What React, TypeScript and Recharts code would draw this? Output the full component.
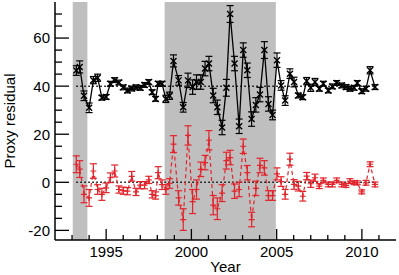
import React from "react"
import {
  ComposedChart,
  Line,
  XAxis,
  YAxis,
  ErrorBar,
  ReferenceArea,
  ReferenceLine,
} from "recharts"

const FONT = "'Liberation Sans', Arial, Helvetica, sans-serif"
const RED = "#e3242b"
const GREY = "#bfbfbf"

// sampling times (decimal year), shared by both series
const years = [
  1993.25, 1993.45, 1993.7, 1994.0, 1994.25, 1994.5, 1994.75, 1995.0, 1995.25, 1995.5,
  1995.75, 1996.0, 1996.25, 1996.5, 1996.75, 1997.0, 1997.25, 1997.5, 1997.7, 1997.9,
  1998.05, 1998.28, 1998.5, 1998.72, 1998.95, 1999.25, 1999.52, 1999.8, 2000.07, 2000.3,
  2000.55, 2000.8, 2001.03, 2001.28, 2001.52, 2001.8, 2002.05, 2002.27, 2002.53, 2002.8,
  2003.04, 2003.28, 2003.53, 2003.78, 2004.02, 2004.28, 2004.52, 2004.76, 2005.02, 2005.26,
  2005.5, 2005.78, 2006.02, 2006.27, 2006.53, 2006.76, 2007.0, 2007.25, 2007.5, 2007.74,
  2008.03, 2008.27, 2008.52, 2008.82, 2009.07, 2009.3, 2009.54, 2009.73, 2009.99, 2010.24,
  2010.48, 2010.77,
]

// black series (plotted with +40 offset)
const blackVals = [
  46.5, 48, 36, 31, 42.5, 43.5, 35.2, 35.5, 41, 42.5,
  41.5, 39.5, 38.2, 39, 39.5, 39.3, 40.5, 41.7, 37.5, 34.7,
  41, 41, 34.7, 36, 50.5, 42.4, 31.2, 42.4, 39.6, 41.7,
  41.7, 47.3, 49.4, 36.1, 31.2, 22.8, 39.3, 70, 49.4, 23.3,
  55, 46.6, 26.3, 32.2, 36.5, 55, 32.6, 28, 50.8, 40.3,
  34, 45.2, 41.7, 36.1, 35.4, 42.1, 39.3, 41.7, 38.9, 41,
  38.2, 39.9, 41.3, 40.3, 39.6, 38.9, 39.3, 41.3, 37.9, 38.9,
  46.6, 39.6,
]
const blackErr = [
  2, 2.5, 2, 2, 1.5, 1.5, 1, 1, 1, 1,
  1, 1, 1, 1, 1, 1, 1, 1, 1, 1,
  1, 1, 1.5, 1.5, 2.5, 2, 2, 3, 3, 3,
  3, 3, 3, 3, 3, 3, 3.5, 3.5, 3, 3,
  3, 3, 3, 3, 3, 3.5, 3, 2, 3, 2,
  2, 2, 2, 1, 1, 1.5, 1.5, 1.5, 1, 1,
  1, 1, 1, 1, 1, 1, 1, 1, 1, 1,
  1.5, 1,
]

// red series
const redVals = [
  7.5, 5.5, -5, -6.5, 4.7, -3, -5, -2.3, 1.9, 4.7,
  -3, -3.5, -3.7, 2.5, -4, -1.2, -1.2, 1, -5, -5.5,
  4, -1, -3, -0.5, 15.9, -6.5, -15.5, 19.5, -8, -3,
  5.4, 8.2, 17.5, -9.5, -11, -4.5, 9, 10.3, -3.7, -3,
  15, 4, -15.5, -2.5, 7, 6, -5.5, -5.5, 3.5, 0.3,
  -5, 9.6, -0.9, -1.6, -5.8, 2.6, -0.6, 1.9, -1.6, 0.8,
  -0.9, -0.9, 0.8, -0.9, -1.3, 0.5, -0.2, -0.2, -4, -0.2,
  7.5, -0.9,
]
const redErr = [
  3.5, 3.5, 3.5, 3.5, 3, 2, 2.5, 2, 2, 2.5,
  1.5, 1.5, 1.5, 2, 1.5, 1.5, 1.5, 1.5, 1.5, 1.5,
  2.5, 2, 2, 2, 3.5, 3, 4.5, 4, 5, 4,
  3, 3, 4, 4, 4.5, 3.5, 3.5, 3, 3, 3,
  3, 3, 3, 3, 3, 3, 2, 2, 2.5, 2,
  2, 2.5, 2, 2, 2, 1.5, 1.5, 1.5, 1, 1,
  1, 1, 1, 1, 0.8, 1, 0.8, 0.8, 0.8, 1,
  1, 1,
]

const shaded = [
  [1993.04, 1993.9],
  [1998.43, 2004.95],
]

const xTicks = [
  1993, 1994, 1995, 1996, 1997, 1998, 1999, 2000, 2001, 2002,
  2003, 2004, 2005, 2006, 2007, 2008, 2009, 2010, 2011,
]
const xLabels = [1995, 2000, 2005, 2010]
const yTicks = [-20, -15, -10, -5, 0, 5, 10, 15, 20, 25, 30, 35, 40, 45, 50, 55, 60, 65, 70]
const yLabels = [-20, 0, 20, 40, 60]
const guideLevels = [0, 40]

const data = years.map((year, i) => ({
  year,
  b: blackVals[i],
  bErr: blackErr[i],
  r: redVals[i],
  rErr: redErr[i],
}))

const BottomTick = ({ x, y, payload }: any) => {
  const major = xLabels.includes(payload.value)
  return (
    <g>
      <line x1={x} x2={x} y1={y} y2={y - (major ? 11 : 5)} stroke="#000" strokeWidth={1.3} />
      {major && (
        <text x={x} y={y + 17} textAnchor="middle" fontSize={15} fontFamily={FONT} fill="#000">
          {payload.value}
        </text>
      )}
    </g>
  )
}

const TopTick = ({ x, y, payload }: any) => {
  const major = xLabels.includes(payload.value)
  return <line x1={x} x2={x} y1={y} y2={y + (major ? 11 : 5)} stroke="#000" strokeWidth={1.3} />
}

const LeftTick = ({ x, y, payload }: any) => {
  const major = yLabels.includes(payload.value)
  return (
    <g>
      <line x1={x} x2={x + (major ? 14 : 7)} y1={y} y2={y} stroke="#000" strokeWidth={1.3} />
      {major && (
        <text x={x - 5} y={y} dy="0.36em" textAnchor="end" fontSize={15} fontFamily={FONT} fill="#000">
          {payload.value}
        </text>
      )}
    </g>
  )
}

const RightTick = ({ x, y, payload }: any) => {
  const major = yLabels.includes(payload.value)
  return <line x1={x} x2={x - (major ? 14 : 7)} y1={y} y2={y} stroke="#000" strokeWidth={1.3} />
}

// "x" marker for the black series
const Cross = ({ cx, cy, index }: any) => (
  <path
    key={`b${index}`}
    d={`M${cx - 3},${cy - 3}L${cx + 3},${cy + 3}M${cx - 3},${cy + 3}L${cx + 3},${cy - 3}`}
    stroke="#000"
    strokeWidth={1.4}
    fill="none"
  />
)

// "+" marker for the red series (vertical part is hidden by the error bar)
const Plus = ({ cx, cy, index }: any) => (
  <path
    key={`r${index}`}
    d={`M${cx - 3},${cy}L${cx + 3},${cy}M${cx},${cy - 3}L${cx},${cy + 3}`}
    stroke={RED}
    strokeWidth={1.2}
    fill="none"
  />
)

export default function App() {
  const axisLine = { stroke: "#000", strokeWidth: 1.5 }
  const first = years[0]
  const last = years[years.length - 1]

  return (
    <div style={{ position: "absolute", left: 0, top: 0, width: 399, height: 275, background: "#fff" }}>
      <ComposedChart width={399} height={275} data={data} margin={{ top: 2, right: 3, bottom: 0, left: 0 }}>
        <XAxis
          dataKey="year"
          type="number"
          domain={[1992, 2012]}
          ticks={xTicks}
          interval={0}
          height={35}
          tickSize={0}
          tickMargin={0}
          axisLine={axisLine}
          tickLine={false}
          tick={BottomTick}
          allowDataOverflow
        />
        <XAxis
          xAxisId="top"
          orientation="top"
          type="number"
          domain={[1992, 2012]}
          ticks={xTicks}
          interval={0}
          height={0}
          tickSize={0}
          tickMargin={0}
          axisLine={axisLine}
          tickLine={false}
          tick={TopTick}
          allowDataOverflow
        />
        <YAxis
          type="number"
          domain={[-24, 75]}
          ticks={yTicks}
          interval={0}
          width={55}
          tickSize={0}
          tickMargin={0}
          axisLine={axisLine}
          tickLine={false}
          tick={LeftTick}
          allowDataOverflow
        />
        <YAxis
          yAxisId="right"
          orientation="right"
          type="number"
          domain={[-24, 75]}
          ticks={yTicks}
          interval={0}
          width={0}
          tickSize={0}
          tickMargin={0}
          axisLine={axisLine}
          tickLine={false}
          tick={RightTick}
          allowDataOverflow
        />

        {shaded.map(([a, b], i) => (
          <ReferenceArea key={i} x1={a} x2={b} fill={GREY} fillOpacity={1} stroke="none" />
        ))}
        {guideLevels.map((lv) => (
          <ReferenceLine
            key={lv}
            segment={[
              { x: first, y: lv },
              { x: last, y: lv },
            ]}
            stroke="#000"
            strokeWidth={1.5}
            strokeDasharray="1.5 2.5"
          />
        ))}

        <Line
          dataKey="r"
          stroke={RED}
          strokeWidth={1.2}
          strokeDasharray="4 3"
          dot={Plus}
          isAnimationActive={false}
        >
          <ErrorBar dataKey="rErr" width={3.5} stroke={RED} strokeWidth={1.2} direction="y" isAnimationActive={false} />
        </Line>
        <Line dataKey="b" stroke="#000" strokeWidth={1.3} dot={Cross} isAnimationActive={false}>
          <ErrorBar dataKey="bErr" width={3.5} stroke="#000" strokeWidth={1.2} direction="y" isAnimationActive={false} />
        </Line>
      </ComposedChart>

      <svg
        width={399}
        height={275}
        style={{ position: "absolute", left: 0, top: 0, pointerEvents: "none" }}
      >
        <text x={225.5} y={272} textAnchor="middle" fontSize={15} fontFamily={FONT} fill="#000">
          Year
        </text>
        <text
          x={15}
          y={121}
          textAnchor="middle"
          fontSize={15}
          fontFamily={FONT}
          fill="#000"
          transform="rotate(-90, 15, 121)"
        >
          Proxy residual
        </text>
      </svg>
    </div>
  )
}
